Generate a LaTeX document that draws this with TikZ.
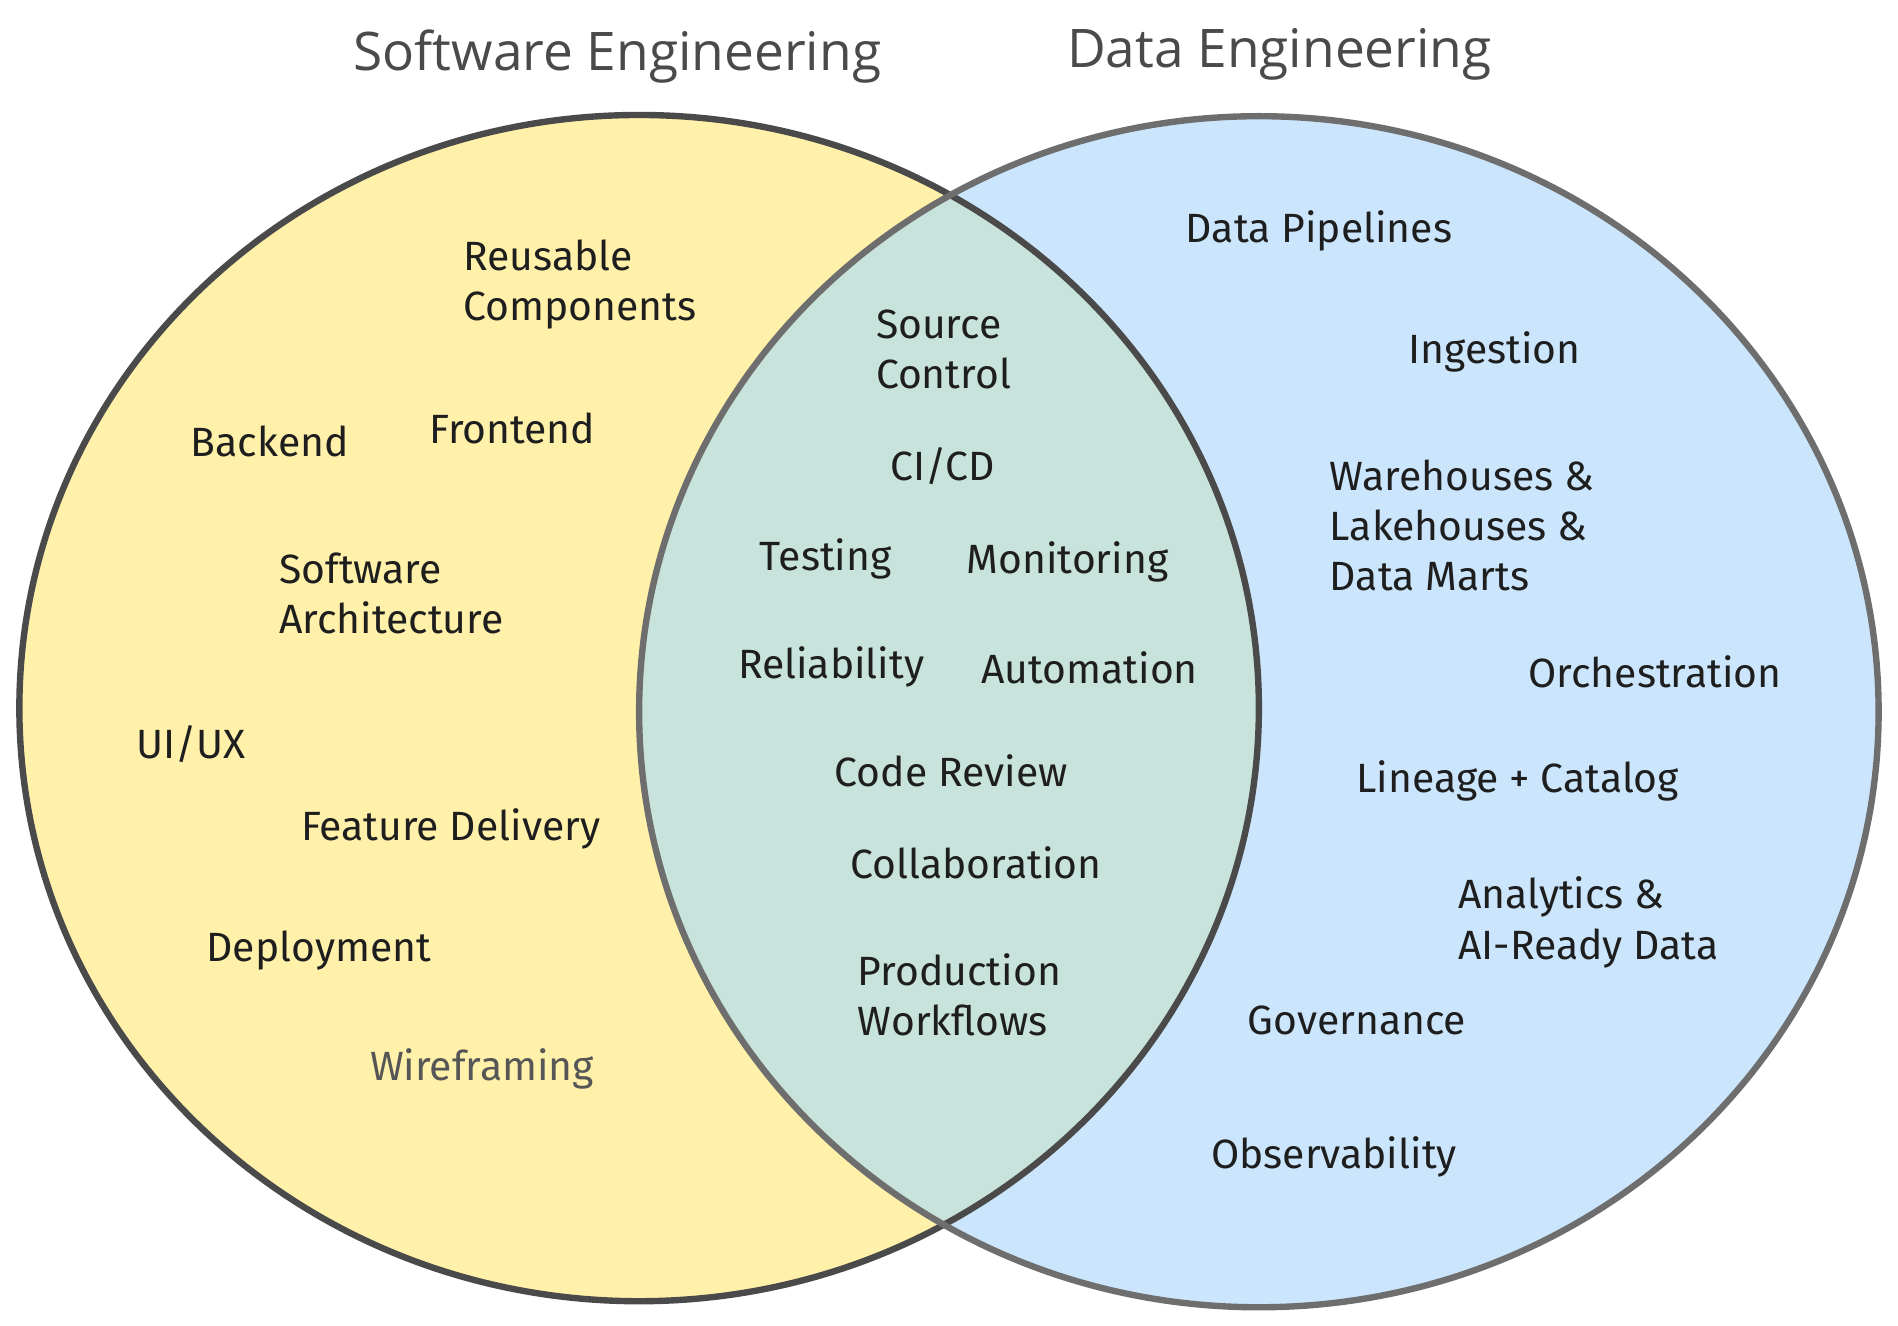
\documentclass[tikz,border=0pt]{standalone}
\usepackage{fontspec}
\setmainfont{Fira Sans}
\newfontfamily\titlefont{Open Sans}
\definecolor{yel}{HTML}{FFF0AA}
\definecolor{blu}{HTML}{CBE6FC}
\definecolor{mix}{HTML}{C8E3DC}
\definecolor{edge}{HTML}{4A4A4A}
\definecolor{ink}{HTML}{1E1E1E}
\tikzset{lbl/.style={anchor=west,align=left,text=ink,font=\fontsize{9.6}{11.8}\selectfont,inner sep=0pt},
ttl/.style={text=edge,font=\titlefont\fontsize{12.5}{15}\selectfont}}
\begin{document}
\begin{tikzpicture}[x=0.01cm,y=-0.01cm]
\useasboundingbox (0,0) rectangle (1568,1095);
\fill[yel] (528,585) ellipse [x radius=512,y radius=490];
\fill[blu] (1040,588) ellipse [x radius=512,y radius=492];
\begin{scope}
\clip (528,585) ellipse [x radius=512,y radius=490];
\fill[mix] (1040,588) ellipse [x radius=512,y radius=492];
\end{scope}
\draw[edge,line width=1.5pt] (528,585) ellipse [x radius=512,y radius=490];
\draw[edge!80,line width=1.5pt] (1040,588) ellipse [x radius=512,y radius=492];
\node[ttl] (t1) at (510,47) {Software Engineering};
\node[ttl] (t2) at (1057,45) {Data Engineering};
\node[lbl] (a1) at (382,235) {Reusable\\Components};
\node[lbl] (a2) at (157,365) {Backend};
\node[lbl] (a3) at (354,354) {Frontend};
\node[lbl] (a4) at (230,490) {Software\\Architecture};
\node[lbl] (a5) at (112,615) {UI/UX};
\node[lbl] (a6) at (248,685) {Feature Delivery};
\node[lbl] (a7) at (170,785) {Deployment};
\node[lbl,text=ink!75] (a8) at (305,883) {Wireframing};
\node[lbl] (b1) at (723,289) {Source\\Control};
\node[lbl] (b2) at (735,385) {CI/CD};
\node[lbl] (b3) at (627,462) {Testing};
\node[lbl] (b4) at (798,464) {Monitoring};
\node[lbl] (b5) at (609,551) {Reliability};
\node[lbl] (b6) at (810,552) {Automation};
\node[lbl] (b7) at (689,637) {Code Review};
\node[lbl] (b8) at (702,713) {Collaboration};
\node[lbl] (b9) at (708,822) {Production\\Workflows};
\node[lbl] (c1) at (979,191) {Data Pipelines};
\node[lbl] (c2) at (1163,291) {Ingestion};
\node[lbl] (c3) at (1098,434) {Warehouses \&\\Lakehouses \&\\Data Marts};
\node[lbl] (c4) at (1262,555) {Orchestration};
\node[lbl] (c5) at (1120,645) {Lineage + Catalog};
\node[lbl] (c6) at (1204,762) {Analytics \&\\AI-Ready Data};
\node[lbl] (c7) at (1030,843) {Governance};
\node[lbl] (c8) at (1000,956) {Observability};
\end{tikzpicture}
\end{document}
